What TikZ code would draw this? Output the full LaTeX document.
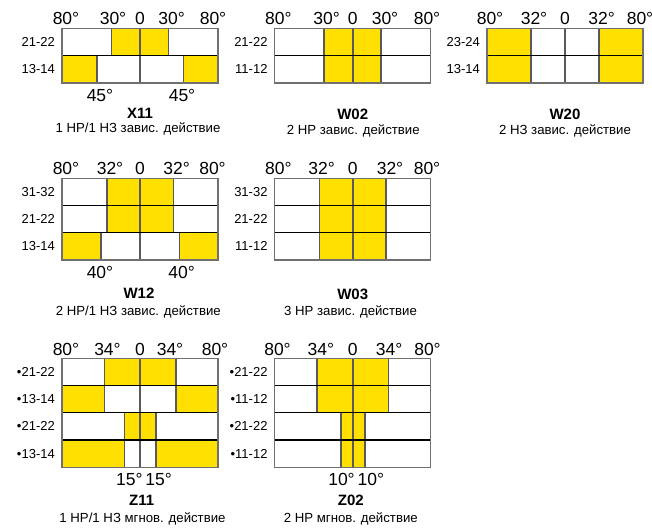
\documentclass[tikz,border=0pt]{standalone}
\usepackage{fontspec}
\setmainfont{Liberation Sans}
\definecolor{yel}{HTML}{FFE000}
\definecolor{vgray}{HTML}{5A5A5A}
\definecolor{bgray}{HTML}{707070}
\tikzset{
  vl/.style={draw=vgray,line width=1.6pt},
  hl/.style={draw=black,line width=1.2pt},
  frame/.style={draw=bgray,line width=1.5pt},
  deg/.style={font=\fontsize{17.5}{17.5}\selectfont,anchor=base,inner sep=0pt},
  rowlab/.style={font=\fontsize{13}{13}\selectfont,anchor=east,inner sep=0pt},
  ttl/.style={font=\fontsize{15}{15}\selectfont\bfseries,anchor=base,inner sep=0pt},
  dsc/.style={font=\fontsize{13.2}{13.2}\selectfont,anchor=base,inner sep=0pt},
}
\newcommand\ycell[4]{\fill[yel] (#1,#3) rectangle (#2,#4); \draw[vl] (#1,#3)--(#1,#4) (#2,#3)--(#2,#4);}
\newcommand\gridbox[1]{%
  \draw[vl] (0,0)--(0,#1);
  \foreach \yy in {27.25,54.5,81.75} {\ifdim\yy pt<#1pt \draw[hl] (-78,\yy)--(78,\yy);\fi}
  \draw[frame] (-78,0) rectangle (78,#1);}
\begin{document}
\begin{tikzpicture}[x=1pt,y=-1pt]
\useasboundingbox (0,0) rectangle (652,529);

% ---------- X11 ----------
\begin{scope}[shift={(140,28.3)}]
  \ycell{-28.5}{28.5}{0}{27.25}
  \ycell{-78}{-43.3}{27.25}{54.5}
  \ycell{43.3}{78}{27.25}{54.5}
  \gridbox{54.5}
  \node[deg] (x11a) at (-74,-3.3) {80°};
  \node[deg] (x11b) at (-27,-3.3) {30°};
  \node[deg] (x11c) at (0,-3.3) {0};
  \node[deg] (x11d) at (31.7,-3.3) {30°};
  \node[deg] (x11e) at (73,-3.3) {80°};
  \node[rowlab] (x11r1) at (-85,13.6) {21-22};
  \node[rowlab] (x11r2) at (-85,40.9) {13-14};
  \node[deg] (x11f) at (-40,72.9) {45°};
  \node[deg] (x11g) at (42,72.9) {45°};
  \node[ttl] (x11t) at (0,90.7) {X11};
  \node[dsc] (x11s) at (-2,104.4) {1 НР/1 НЗ завис. действие};
\end{scope}

% ---------- W02 ----------
\begin{scope}[shift={(352.7,28.3)}]
  \ycell{-28.5}{28.5}{0}{54.5}
  \gridbox{54.5}
  \node[deg] (w02a) at (-74.4,-3.3) {80°};
  \node[deg] (w02b) at (-26,-3.3) {30°};
  \node[deg] (w02c) at (0,-3.3) {0};
  \node[deg] (w02d) at (32.3,-3.3) {30°};
  \node[deg] (w02e) at (74.3,-3.3) {80°};
  \node[rowlab] (w02r1) at (-85,13.6) {21-22};
  \node[rowlab] (w02r2) at (-85,40.9) {11-12};
  \node[ttl] (w02t) at (0,91.7) {W02};
  \node[dsc] (w02s) at (0.6,106) {2 НР завис. действие};
\end{scope}

% ---------- W20 ----------
\begin{scope}[shift={(565,28.3)}]
  \ycell{-78}{-34}{0}{54.5}
  \ycell{34}{78}{0}{54.5}
  \gridbox{54.5}
  \node[deg] (w20a) at (-75,-3.3) {80°};
  \node[deg] (w20b) at (-31,-3.3) {32°};
  \node[deg] (w20c) at (0,-3.3) {0};
  \node[deg] (w20d) at (36.7,-3.3) {32°};
  \node[deg] (w20e) at (75,-3.3) {80°};
  \node[rowlab] (w20r1) at (-85,13.6) {23-24};
  \node[rowlab] (w20r2) at (-85,40.9) {13-14};
  \node[ttl] (w20t) at (0,91.2) {W20};
  \node[dsc] (w20s) at (0,106) {2 НЗ завис. действие};
\end{scope}

% ---------- W12 ----------
\begin{scope}[shift={(140,178.3)}]
  \ycell{-33.3}{33.3}{0}{54.5}
  \ycell{-78}{-39.3}{54.5}{81.75}
  \ycell{39.3}{78}{54.5}{81.75}
  \gridbox{81.75}
  \node[deg] (w12a) at (-74,-3.3) {80°};
  \node[deg] (w12b) at (-30,-3.3) {32°};
  \node[deg] (w12c) at (0,-3.3) {0};
  \node[deg] (w12d) at (36.7,-3.3) {32°};
  \node[deg] (w12e) at (72.5,-3.3) {80°};
  \node[rowlab] (w12r1) at (-85,13.6) {31-32};
  \node[rowlab] (w12r2) at (-85,40.9) {21-22};
  \node[rowlab] (w12r3) at (-85,68.1) {13-14};
  \node[deg] (w12f) at (-40,100) {40°};
  \node[deg] (w12g) at (41.7,100) {40°};
  \node[ttl] (w12t) at (-1,120) {W12};
  \node[dsc] (w12s) at (-1.7,136.7) {2 НР/1 НЗ завис. действие};
\end{scope}

% ---------- W03 ----------
\begin{scope}[shift={(352.7,178.3)}]
  \ycell{-33.4}{33.4}{0}{81.75}
  \gridbox{81.75}
  \node[deg] (w03a) at (-74.4,-3.3) {80°};
  \node[deg] (w03b) at (-31,-3.3) {32°};
  \node[deg] (w03c) at (0,-3.3) {0};
  \node[deg] (w03d) at (37.3,-3.3) {32°};
  \node[deg] (w03e) at (74.3,-3.3) {80°};
  \node[rowlab] (w03r1) at (-85,13.6) {31-32};
  \node[rowlab] (w03r2) at (-85,40.9) {21-22};
  \node[rowlab] (w03r3) at (-85,68.1) {11-12};
  \node[ttl] (w03t) at (0,120.7) {W03};
  \node[dsc] (w03s) at (-2.2,136.7) {3 НР завис. действие};
\end{scope}

% ---------- Z11 ----------
\begin{scope}[shift={(140,358.3)}]
  \ycell{-35.7}{35.7}{0}{27.25}
  \ycell{-78}{-35.7}{27.25}{54.5}
  \ycell{35.7}{78}{27.25}{54.5}
  \ycell{-15.7}{15.7}{54.5}{81.75}
  \ycell{-78}{-15.7}{81.75}{109}
  \ycell{15.7}{78}{81.75}{109}
  \gridbox{109}
  \node[deg] (z11a) at (-74,-3.3) {80°};
  \node[deg] (z11b) at (-32.5,-3.3) {34°};
  \node[deg] (z11c) at (0,-3.3) {0};
  \node[deg] (z11d) at (30,-3.3) {34°};
  \node[deg] (z11e) at (75,-3.3) {80°};
  \node[rowlab] (z11r1) at (-85,13.6) {•21-22};
  \node[rowlab] (z11r2) at (-85,40.9) {•13-14};
  \node[rowlab] (z11r3) at (-85,68.1) {•21-22};
  \node[rowlab] (z11r4) at (-85,95.4) {•13-14};
  \node[deg] (z11f) at (4,126.7) {15°\,15°};
  \node[ttl] (z11t) at (1.7,147.4) {Z11};
  \node[dsc] (z11s) at (2.5,164.4) {1 НР/1 НЗ мгнов. действие};
\end{scope}

% ---------- Z02 ----------
\begin{scope}[shift={(352.7,358.3)}]
  \ycell{-35.7}{35.7}{0}{54.5}
  \ycell{-12}{12}{54.5}{109}
  \gridbox{109}
  \node[deg] (z02a) at (-75.2,-3.3) {80°};
  \node[deg] (z02b) at (-31.9,-3.3) {34°};
  \node[deg] (z02c) at (0,-3.3) {0};
  \node[deg] (z02d) at (36.5,-3.3) {34°};
  \node[deg] (z02e) at (74.8,-3.3) {80°};
  \node[rowlab] (z02r1) at (-85,13.6) {•21-22};
  \node[rowlab] (z02r2) at (-85,40.9) {•11-12};
  \node[rowlab] (z02r3) at (-85,68.1) {•21-22};
  \node[rowlab] (z02r4) at (-85,95.4) {•11-12};
  \node[deg] (z02f) at (3.5,126.7) {10°\,10°};
  \node[ttl] (z02t) at (-1.9,147.4) {Z02};
  \node[dsc] (z02s) at (-1.9,164.4) {2 НР мгнов. действие};
\end{scope}
\end{tikzpicture}
\end{document}
